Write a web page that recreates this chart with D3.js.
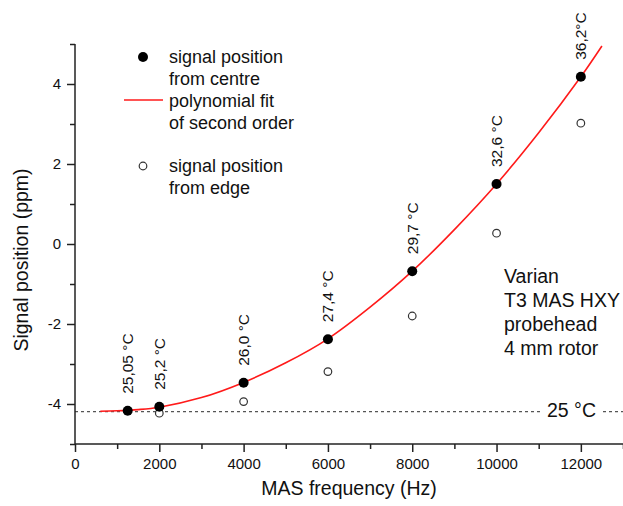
<!DOCTYPE html>
<html><head><meta charset="utf-8">
<script src="https://cdn.jsdelivr.net/npm/d3@7"></script>
<style>
html,body{margin:0;padding:0;background:#fff;}
svg{display:block;font-family:"Liberation Sans",Arial,sans-serif;}
</style></head>
<body><svg id="c" width="623" height="506"></svg>
<script>
const freqs = [1250, 2000, 4000, 6000, 8000, 10000, 12000];
const centre = [-4.17, -4.07, -3.47, -2.38, -0.68, 1.50, 4.18];
const edgeFreqs = [2000, 4000, 6000, 8000, 10000, 12000];
const edge = [-4.23, -3.94, -3.19, -1.80, 0.27, 3.02];
const tempLabels = ["25,05 °C", "25,2 °C", "26,0 °C", "27,4 °C", "29,7 °C", "32,6 °C", "36,2°C"];
const fitX = [600, 1000, 1500, 2000, 3000, 4000, 5000, 6000, 7000, 8000, 9000, 10000, 11000, 12000, 12500];
const fitY = [-4.18, -4.17, -4.14, -4.08, -3.84, -3.46, -2.97, -2.37, -1.58, -0.68, 0.36, 1.50, 2.78, 4.18, 4.95];
const refLevel = -4.19;
const xTicks = [0, 2000, 4000, 6000, 8000, 10000, 12000];
const yTicks = [-4, -2, 0, 2, 4];
const legendItems = [["signal position", "from centre"], ["polynomial fit", "of second order"], ["signal position", "from edge"]];
const probeText = ["Varian", "T3 MAS HXY", "probehead", "4 mm rotor"];

const svg = d3.select("#c");
const x = d3.scaleLinear().domain([0, 13000]).range([75, 623]);
const y = d3.scaleLinear().domain([-5, 5]).range([444, 44]);
const axisCol = "#222";

// reference dashed line
svg.append("line").attr("x1", x(0)).attr("x2", 623).attr("y1", y(refLevel)).attr("y2", y(refLevel))
  .attr("stroke", "#555").attr("stroke-width", 1.2).attr("stroke-dasharray", "3,3");
svg.append("rect").attr("x", 543).attr("y", y(refLevel) - 12).attr("width", 57).attr("height", 22).attr("fill", "#fff");
svg.append("text").attr("x", 547).attr("y", 417).attr("font-size", 19.5).attr("fill", "#111").text("25 °C");

// axes
const gx = svg.append("g").attr("transform", `translate(0,${y(-5)})`);
gx.call(d3.axisBottom(x).tickValues(d3.range(1000, 13001, 2000)).tickSize(5).tickFormat(""));
gx.call(g => g.select(".domain").remove());
const gx2 = svg.append("g").attr("transform", `translate(0,${y(-5)})`);
gx2.call(d3.axisBottom(x).tickValues(xTicks).tickSize(8).tickPadding(6).tickFormat(d3.format("d")));
gx2.select(".domain").attr("d", `M${x(0)},0H623`);
const gy = svg.append("g").attr("transform", `translate(${x(0)},0)`);
gy.call(d3.axisLeft(y).tickValues([-5, -3, -1, 1, 3, 5]).tickSize(5).tickFormat(""));
gy.call(g => g.select(".domain").remove());
const gy2 = svg.append("g").attr("transform", `translate(${x(0)},0)`);
gy2.call(d3.axisLeft(y).tickValues(yTicks).tickSize(8).tickPadding(6).tickFormat(d3.format("d")));
gy2.select(".domain").attr("d", `M0,${y(-5)}V${y(5)}`);
svg.selectAll(".domain, .tick line").attr("stroke", axisCol).attr("stroke-width", 1.5);
svg.selectAll(".tick text").attr("font-size", 15).attr("fill", "#111").attr("font-family", "Liberation Sans, Arial, sans-serif");
gy2.selectAll(".tick text").text(d => d < 0 ? "-" + Math.abs(d) : d);

// axis titles
svg.append("text").attr("x", 349).attr("y", 495).attr("text-anchor", "middle").attr("font-size", 19.5).attr("fill", "#111").text("MAS frequency (Hz)");
svg.append("text").attr("transform", "translate(28,260) rotate(-90)").attr("text-anchor", "middle").attr("font-size", 19.5).attr("fill", "#111").text("Signal position (ppm)");

// fit curve
const fit = fitX.map((v, i) => [v, fitY[i]]);
svg.append("path").datum(fit).attr("fill", "none").attr("stroke", "#ff1a1a").attr("stroke-width", 1.6)
  .attr("d", d3.line().x(d => x(d[0])).y(d => y(d[1])).curve(d3.curveCatmullRom));

// edge points
svg.selectAll(".edge").data(edgeFreqs).join("circle").attr("class", "edge")
  .attr("cx", d => x(d)).attr("cy", (d, i) => y(edge[i])).attr("r", 3.8)
  .attr("fill", "#fff").attr("stroke", "#333").attr("stroke-width", 1.2);

// centre points
svg.selectAll(".centre").data(freqs).join("circle").attr("class", "centre")
  .attr("cx", d => x(d)).attr("cy", (d, i) => y(centre[i])).attr("r", 5).attr("fill", "#000");

// temperature labels
svg.selectAll(".tl").data(freqs).join("text").attr("class", "tl")
  .attr("transform", (d, i) => `translate(${x(d) + 5.5},${y(centre[i]) - 17}) rotate(-90)`)
  .attr("font-size", 15.5).attr("fill", "#111").text((d, i) => tempLabels[i]);

// legend
const lg = svg.append("g");
lg.append("circle").attr("cx", 143).attr("cy", 57).attr("r", 5).attr("fill", "#000");
lg.append("line").attr("x1", 124).attr("x2", 163).attr("y1", 100).attr("y2", 100).attr("stroke", "#ff1a1a").attr("stroke-width", 1.6);
lg.append("circle").attr("cx", 143).attr("cy", 166).attr("r", 3.8).attr("fill", "#fff").attr("stroke", "#333").attr("stroke-width", 1.2);
const legBase = [63, 107, 172];
legendItems.forEach((it, i) => {
  it.forEach((t, j) => {
    lg.append("text").attr("x", 169).attr("y", legBase[i] + j * 22).attr("font-size", 18).attr("fill", "#111").text(t);
  });
});

// probe text
probeText.forEach((t, i) => {
  svg.append("text").attr("x", 504).attr("y", 283 + i * 24).attr("font-size", 19.5).attr("fill", "#111").text(t);
});
</script></body></html>
